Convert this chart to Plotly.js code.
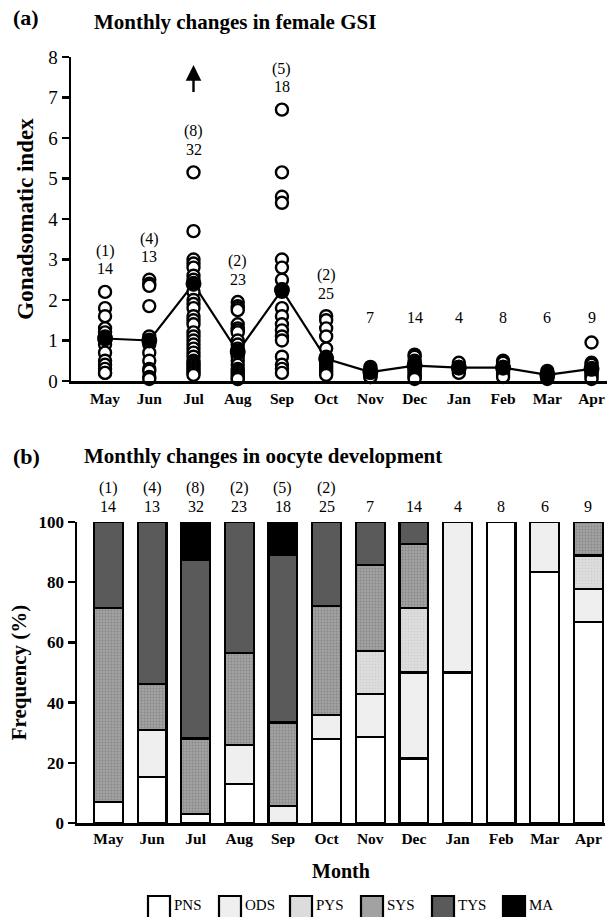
<!DOCTYPE html>
<html>
<head>
<meta charset="utf-8">
<script src="https://cdn.plot.ly/plotly-3.0.1.min.js"></script>
<style>html,body{margin:0;padding:0;background:#fff}#chart{width:608px;height:917px}</style>
</head>
<body>
<div id="chart"></div>
<script>
// ---------- data ----------
const months = ["May","Jun","Jul","Aug","Sep","Oct","Nov","Dec","Jan","Feb","Mar","Apr"];
const nFish = [14,13,32,23,18,25,7,14,4,8,6,9];
const nMature = [1,4,8,2,5,2,null,null,null,null,null,null];

// individual GSI values (visible points) per month
const gsiMay = [2.2,1.8,1.6,1.3,1.2,1.1,1.0,0.9,0.7,0.5,0.4,0.3,0.2,0.2];
const gsiJun = [2.5,2.4,2.35,1.85,1.1,1.0,0.9,0.7,0.5,0.3,0.25,0.1,0.05];
const gsiJul = [5.15,3.7,3.0,2.9,2.8,2.6,2.5,2.4,2.2,2.0,1.9,1.8,1.6,1.5,1.4,1.2,1.1,1.0,0.9,0.8,0.7,0.6,0.5,0.45,0.4,0.35,0.3,0.25,0.2,0.15];
const gsiAug = [1.95,1.85,1.8,1.75,1.4,1.3,1.25,1.2,1.0,0.9,0.8,0.75,0.7,0.6,0.5,0.4,0.3,0.25,0.2,0.15,0.1,0.05,0.05];
const gsiSep = [6.7,5.15,4.55,4.4,3.0,2.8,2.5,2.2,1.8,1.6,1.4,1.25,1.1,1.0,0.6,0.4,0.3,0.2];
const gsiOct = [1.6,1.5,1.3,1.1,0.8,0.6,0.55,0.5,0.45,0.4,0.35,0.3,0.25,0.2,0.15];
const gsiNov = [0.35,0.3,0.25,0.2,0.15,0.1,0.1];
const gsiDec = [0.65,0.6,0.5,0.45,0.4,0.35,0.3,0.3,0.25,0.2,0.15,0.1,0.1,0.05];
const gsiJan = [0.45,0.35,0.25,0.2];
const gsiFeb = [0.5,0.45,0.35,0.3,0.25,0.2,0.15,0.1];
const gsiMar = [0.25,0.2,0.15,0.1,0.1,0.05];
const gsiApr = [0.95,0.45,0.4,0.3,0.25,0.2,0.15,0.1,0.05];
const gsiByMonth = [gsiMay,gsiJun,gsiJul,gsiAug,gsiSep,gsiOct,gsiNov,gsiDec,gsiJan,gsiFeb,gsiMar,gsiApr];
const gsiMean = [1.05,1.0,2.4,0.72,2.25,0.55,0.22,0.38,0.33,0.33,0.15,0.3];

// oocyte stage frequencies (%)
const stageNames = ["PNS","ODS","PYS","SYS","TYS","MA"];
const pctPNS = [7.1,15.4,3.1,13.0,0,28.0,28.6,21.4,50,100,83.3,66.7];
const pctODS = [0,15.4,0,13.0,5.6,8.0,14.3,28.6,50,0,16.7,11.1];
const pctPYS = [0,0,0,0,0,0,14.3,21.4,0,0,0,11.1];
const pctSYS = [64.3,15.4,25.0,30.4,27.8,36.0,28.6,21.4,0,0,0,11.1];
const pctTYS = [28.6,53.8,59.4,43.5,55.6,28.0,14.3,7.1,0,0,0,0];
const pctMA  = [0,0,12.5,0,11.1,0,0,0,0,0,0,0];
const stagePct = [pctPNS,pctODS,pctPYS,pctSYS,pctTYS,pctMA];

// ---------- styles ----------
const SERIF = "Liberation Serif, Times New Roman, serif";
const stageStyle = [
  {color:"#ffffff"},
  {color:"#efefef"},
  {color:"#dcdcdc", pattern:{shape:".", fgcolor:"#bdbdbd", size:3, solidity:0.2, fillmode:"overlay"}},
  {color:"#a2a2a2", pattern:{shape:".", fgcolor:"#6a6a6a", size:3, solidity:0.3, fillmode:"overlay"}},
  {color:"#5a5a5a"},
  {color:"#000000"}
];

const W = 608, H = 917;
const py = p => 1 - p / H;

const traces = [];
// mean line (under points)
traces.push({x:months, y:gsiMean, type:"scatter", mode:"lines", xaxis:"x", yaxis:"y",
  line:{color:"#000", width:2.2}, showlegend:false, hoverinfo:"skip"});
// individual points
const px = [], pv = [];
gsiByMonth.forEach((arr,i)=>arr.forEach(v=>{px.push(months[i]); pv.push(v);}));
traces.push({x:px, y:pv, type:"scatter", mode:"markers", xaxis:"x", yaxis:"y",
  marker:{symbol:"circle", size:12, color:"#fff", line:{color:"#000", width:2.4}},
  showlegend:false, cliponaxis:false});
// mean markers
traces.push({x:months, y:gsiMean, type:"scatter", mode:"markers", xaxis:"x", yaxis:"y",
  marker:{symbol:"circle", size:15, color:"#000", line:{color:"#000", width:1}},
  showlegend:false, cliponaxis:false});

// stacked bars
stageNames.forEach((nm,k)=>{
  const st = stageStyle[k];
  const marker = {color:st.color, line:{color:"#000", width:2.2}};
  if (st.pattern) marker.pattern = st.pattern;
  traces.push({x:months, y:stagePct[k], name:nm, type:"bar", xaxis:"x2", yaxis:"y2",
    marker:marker, showlegend:false});
});

// annotations
const ann = [];
const txtFont = {family:SERIF, size:16, color:"#000"};
months.forEach((m,i)=>{
  const top = Math.max(Math.max(...gsiByMonth[i]), 1.0);
  ann.push({xref:"x", yref:"y", x:m, y:top, text:String(nFish[i]), showarrow:false,
    yshift:23, font:txtFont});
  if (nMature[i] !== null) {
    ann.push({xref:"x", yref:"y", x:m, y:top, text:"("+nMature[i]+")", showarrow:false,
      yshift:41, font:txtFont});
  }
  ann.push({xref:"x2", yref:"y2", x:m, y:100, text:String(nFish[i]), showarrow:false,
    yshift:16, font:txtFont});
  if (nMature[i] !== null) {
    ann.push({xref:"x2", yref:"y2", x:m, y:100, text:"("+nMature[i]+")", showarrow:false,
      yshift:34, font:txtFont});
  }
});
// arrow above Jul (off-scale values)
ann.push({xref:"x", yref:"y", x:"Jul", y:7.8, axref:"x", ayref:"y", ax:"Jul", ay:7.1,
  showarrow:true, arrowhead:2, arrowsize:1.3, arrowwidth:2.4, arrowcolor:"#000", text:""});
// panel titles
ann.push({xref:"paper", yref:"paper", x:11/W, y:py(18), xanchor:"left", yanchor:"middle",
  text:"<b>(a)</b>", showarrow:false, font:{family:SERIF, size:22, color:"#000"}});
ann.push({xref:"paper", yref:"paper", x:92/W, y:py(22), xanchor:"left", yanchor:"middle",
  text:"<b>Monthly changes in female GSI</b>", showarrow:false, font:{family:SERIF, size:21, color:"#000"}});
ann.push({xref:"paper", yref:"paper", x:11/W, y:py(456), xanchor:"left", yanchor:"middle",
  text:"<b>(b)</b>", showarrow:false, font:{family:SERIF, size:22, color:"#000"}});
ann.push({xref:"paper", yref:"paper", x:82/W, y:py(456), xanchor:"left", yanchor:"middle",
  text:"<b>Monthly changes in oocyte development</b>", showarrow:false, font:{family:SERIF, size:21, color:"#000"}});

// custom legend (swatch + label per stage)
const shapes = [];
stageNames.forEach((nm,k)=>{
  const left = 148 + 71*k;
  shapes.push({type:"rect", xref:"paper", yref:"paper", x0:left/W, x1:(left+22)/W,
    y0:py(919), y1:py(896), fillcolor:stageStyle[k].color, line:{color:"#000", width:2.2}});
  ann.push({xref:"paper", yref:"paper", x:(left+24)/W, y:py(905), xanchor:"left", yanchor:"middle",
    text:nm, showarrow:false, font:{family:SERIF, size:15, color:"#000"}});
});

const layout = {
  width:W, height:H,
  margin:{l:0, r:0, t:0, b:0, autoexpand:false},
  paper_bgcolor:"#fff", plot_bgcolor:"#fff",
  font:{family:SERIF, color:"#000"},
  barmode:"stack", bargap:0.34,
  showlegend:false,
  xaxis:{domain:[71/W, 607/W], anchor:"y", type:"category", range:[-0.77, 11.35], automargin:false,
    showline:true, linecolor:"#000", linewidth:2.5, ticks:"", showgrid:false, zeroline:false,
    tickfont:{family:SERIF, size:15.5, color:"#000", weight:"bold"}, ticklabelstandoff:2, fixedrange:true},
  yaxis:{domain:[py(381), py(57)], anchor:"x", range:[0,8], dtick:1, automargin:false,
    showline:true, linecolor:"#000", linewidth:2.5, ticks:"outside", ticklen:7, tickwidth:2.5, tickcolor:"#000",
    showgrid:false, zeroline:false, tickfont:{family:SERIF, size:19, color:"#000"},
    title:{text:"<b>Gonadsomatic index</b>", font:{family:SERIF, size:23, color:"#000"}, standoff:8}},
  xaxis2:{domain:[77/W, 605/W], anchor:"y2", type:"category", range:[-0.72, 11.38], automargin:false,
    showline:true, linecolor:"#000", linewidth:2.5, ticks:"", showgrid:false, zeroline:false,
    tickfont:{family:SERIF, size:15.5, color:"#000", weight:"bold"},
    title:{text:"<b>Month</b>", font:{family:SERIF, size:20, color:"#000"}, standoff:18}},
  yaxis2:{domain:[py(823), py(522)], anchor:"x2", range:[0,100], dtick:20, automargin:false,
    showline:true, linecolor:"#000", linewidth:2.5, ticks:"outside", ticklen:7, tickwidth:2.5, tickcolor:"#000",
    showgrid:false, zeroline:false, tickfont:{family:SERIF, size:17, color:"#000", weight:"bold"},
    title:{text:"<b>Frequency (%)</b>", font:{family:SERIF, size:21, color:"#000"}, standoff:6}},
  shapes:shapes,
  annotations:ann
};

Plotly.newPlot("chart", traces, layout, {staticPlot:true, displayModeBar:false});
</script>
</body>
</html>
